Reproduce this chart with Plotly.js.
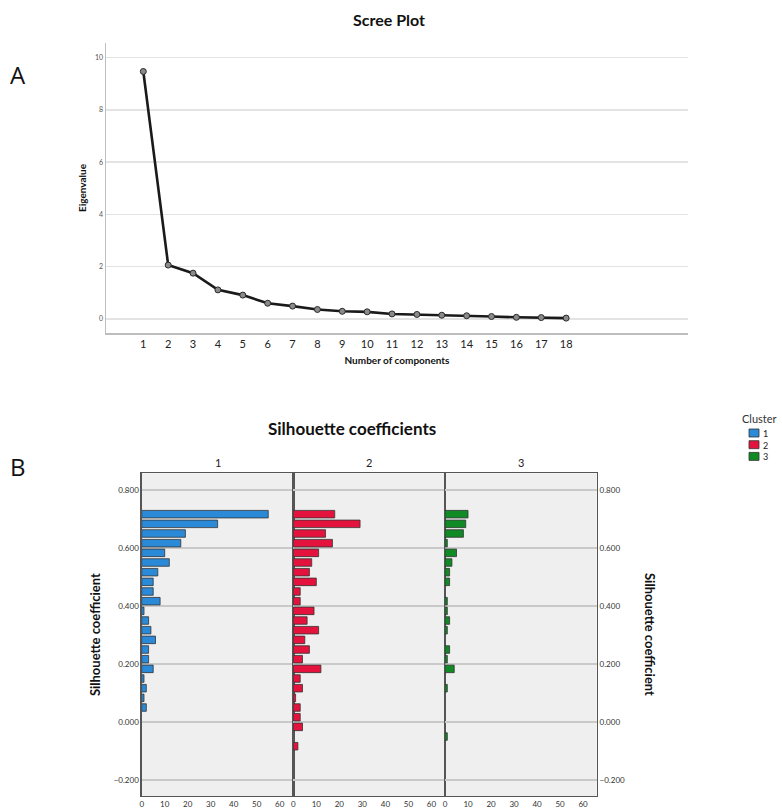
<!DOCTYPE html>
<html>
<head>
<meta charset="utf-8">
<script src="https://cdn.plot.ly/plotly-3.0.1.min.js"></script>
<style>html,body{margin:0;padding:0;background:#fff;}#chart{width:782px;height:812px;}</style>
</head>
<body>
<div id="chart"></div>
<script>
// ---- Scree plot data ----
const components = [1,2,3,4,5,6,7,8,9,10,11,12,13,14,15,16,17,18];
const eigenvalues = [9.47,2.06,1.75,1.11,0.91,0.60,0.49,0.36,0.29,0.27,0.19,0.17,0.14,0.12,0.09,0.06,0.05,0.03];

// ---- Silhouette histogram data (bin centres, counts per cluster) ----
const binCenters = [0.7167,0.6833,0.65,0.6167,0.5833,0.55,0.5167,0.4833,0.45,0.4167,0.3833,0.35,0.3167,0.2833,0.25,0.2167,0.1833,0.15,0.1167,0.0833,0.05,0.0167,-0.0167,-0.05,-0.0833];
const cluster1Counts = [55,33,19,17,10,12,7,5,5,8,1,3,4,6,3,3,5,1,2,1,2,0,0,0,0];
const cluster2Counts = [18,29,14,17,11,8,7,10,3,3,9,6,11,5,7,4,12,3,4,1,3,3,4,0,2];
const cluster3Counts = [10,9,8,1,5,3,2,2,0,1,1,2,1,0,2,1,4,0,1,0,0,0,0,1,0];
const clusterNames = ["1","2","3"];
const clusterColors = ["#2a8ad8","#e3133d","#0f8a25"];
const silTicks = [-0.2,0,0.2,0.4,0.6,0.8];
const freqTicks = [0,10,20,30,40,50,60];

const W = 782, H = 812;
const px = v => v / W;
const py = v => (H - v) / H;

const fontFam = "Lato, 'Open Sans', sans-serif";
const barWidth = 0.0333 * 0.78;

const traces = [
  {
    type: 'scatter', mode: 'lines+markers',
    x: components, y: eigenvalues,
    xaxis: 'x', yaxis: 'y',
    line: {color: '#1a1a1a', width: 2.6},
    marker: {symbol: 'circle', size: 6, color: '#8a8a8a', line: {color: '#2a2a2a', width: 1}},
    showlegend: false, hoverinfo: 'x+y'
  }
];
const counts = [cluster1Counts, cluster2Counts, cluster3Counts];
for (let i = 0; i < 3; i++) {
  const ys = [], xs = [];
  binCenters.forEach((b, k) => { if (counts[i][k] > 0) { ys.push(b); xs.push(counts[i][k]); } });
  traces.push({
    type: 'bar', orientation: 'h',
    y: ys, x: xs,
    xaxis: 'x' + (i + 2), yaxis: 'y' + (i + 2),
    width: barWidth,
    name: clusterNames[i],
    marker: {color: clusterColors[i], line: {color: '#333333', width: 0.8}},
    showlegend: false
  });
}

const panelDomains = [[px(141.7), px(293.3)], [px(293.3), px(445)], [px(445), px(596.7)]];
const panelY = [py(796), py(473.3)];
const silRange = [-0.255, 0.8576];

const layout = {
  width: W, height: H,
  margin: {l: 0, r: 0, t: 0, b: 0},
  paper_bgcolor: '#ffffff',
  plot_bgcolor: 'rgba(0,0,0,0)',
  font: {family: fontFam, color: '#222'},
  bargap: 0,
  showlegend: false,
  title: {
    text: '<b>Scree Plot</b>', x: px(389), xref: 'paper', xanchor: 'center',
    y: py(20), yref: 'paper', yanchor: 'middle',
    font: {size: 16, family: fontFam, color: '#111'}
  },
  xaxis: {
    domain: [px(106), px(688)], anchor: 'y',
    range: [-0.5, 22.9], tickvals: components, ticktext: components.map(String),
    showgrid: false, zeroline: false, showline: true, linecolor: '#bdbdbd', linewidth: 1.5,
    ticks: '', tickfont: {size: 11, color: '#222', family: fontFam},
    title: {text: '<b>Number of components</b>', font: {size: 10, color: '#111', family: fontFam}, standoff: 8},
    automargin: false
  },
  yaxis: {
    domain: [py(333), py(43)], anchor: 'x',
    range: [-0.54, 10.56], tickvals: [0,2,4,6,8,10],
    showgrid: true, gridcolor: '#e3e3e3', gridwidth: 1.5, zeroline: false,
    showline: true, linecolor: '#bdbdbd', linewidth: 1.5,
    ticks: '', tickfont: {size: 7, color: '#555', family: fontFam},
    title: {text: '<b>Eigenvalue</b>', font: {size: 10, color: '#111', family: fontFam}, standoff: 6},
    automargin: false
  },
  shapes: [],
  annotations: [
    {text: 'A', x: px(18), y: py(75), xref: 'paper', yref: 'paper', xanchor: 'center', yanchor: 'middle', showarrow: false, font: {size: 24, color: '#111', family: "'Open Sans', sans-serif"}},
    {text: 'B', x: px(18), y: py(466), xref: 'paper', yref: 'paper', xanchor: 'center', yanchor: 'middle', showarrow: false, font: {size: 24, color: '#111', family: "'Open Sans', sans-serif"}},
    {text: '<b>Silhouette coefficients</b>', x: px(352), y: py(428), xref: 'paper', yref: 'paper', xanchor: 'center', yanchor: 'middle', showarrow: false, font: {size: 17, color: '#111', family: fontFam}},
    {text: '<b>Silhouette coefficient</b>', x: px(650), y: py(634), xref: 'paper', yref: 'paper', xanchor: 'center', yanchor: 'middle', textangle: 90, showarrow: false, font: {size: 13, color: '#111', family: fontFam}},
    {text: 'Cluster', x: px(759), y: py(418), xref: 'paper', yref: 'paper', xanchor: 'center', yanchor: 'middle', showarrow: false, borderpad: 0, font: {size: 11, color: '#333', family: fontFam}}
  ]
};

// compact legend (SPSS style): one multi-line label block + swatches
const legendRowGap = 11.7;
const legendTop = 433;
for (let i = 0; i < 3; i++) {
  const yc = legendTop + i * legendRowGap;
  layout.shapes.push({
    type: 'rect', xref: 'paper', yref: 'paper',
    x0: px(749), x1: px(759), y0: py(yc + 4), y1: py(yc - 4),
    fillcolor: clusterColors[i], line: {color: '#333', width: 0.8}
  });
}
layout.annotations.push({
  text: clusterNames.join('<br>'), x: px(762), y: py(legendTop + legendRowGap), xref: 'paper', yref: 'paper',
  xanchor: 'left', yanchor: 'middle', align: 'left', showarrow: false, borderpad: 0,
  font: {size: 9, color: '#222', family: fontFam}
});

for (let i = 0; i < 3; i++) {
  const n = i + 2;
  layout.shapes.push({
    type: 'rect', xref: 'x' + n + ' domain', yref: 'y' + n + ' domain',
    x0: 0, x1: 1, y0: 0, y1: 1, layer: 'below',
    fillcolor: '#efefef', line: {width: 0}
  });
  layout.annotations.push({
    text: clusterNames[i], xref: 'x' + n + ' domain', x: 0.5, yref: 'paper', y: py(463),
    xanchor: 'center', yanchor: 'middle', showarrow: false,
    font: {size: 11, color: '#222', family: fontFam}
  });
  layout['xaxis' + n] = {
    domain: panelDomains[i], anchor: 'y' + n,
    range: [0, 65.9], tickvals: freqTicks,
    showgrid: false, zeroline: false,
    showline: true, mirror: true, linecolor: '#555', linewidth: 1.3,
    ticks: '', tickfont: {size: 8, color: '#333', family: fontFam},
    automargin: false
  };
  const ya = {
    domain: panelY, anchor: 'x' + n,
    range: silRange, tickvals: silTicks,
    tickformat: '.3f',
    showgrid: true, gridcolor: '#c9c9c9', gridwidth: 1.5, zeroline: false,
    showline: true, mirror: true, linecolor: '#555', linewidth: 1.3,
    ticks: '', tickfont: {size: 8, color: '#333', family: fontFam},
    automargin: false
  };
  if (i === 0) {
    ya.title = {text: '<b>Silhouette coefficient</b>', font: {size: 13, color: '#111', family: fontFam}, standoff: 10};
  } else if (i === 1) {
    ya.showticklabels = false;
  } else {
    ya.side = 'right';
  }
  layout['yaxis' + n] = ya;
}

Plotly.newPlot('chart', traces, layout, {displayModeBar: false, staticPlot: true});
</script>
</body>
</html>
